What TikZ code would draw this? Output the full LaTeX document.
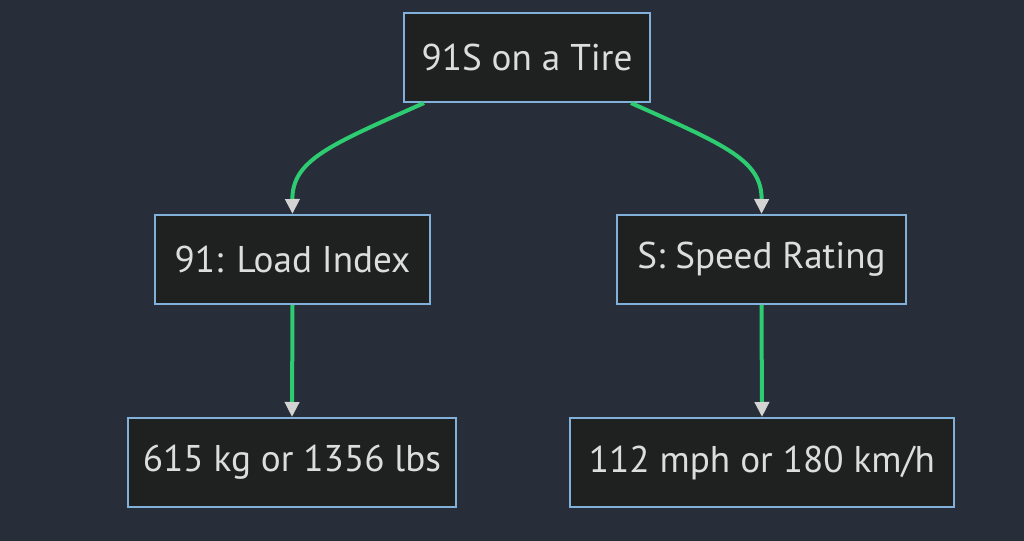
\documentclass[tikz,border=0pt]{standalone}
\usepackage{fontspec}
\setmainfont{PT Sans}
\usetikzlibrary{arrows.meta}

\definecolor{hintergrund}{RGB}{40,45,58}
\definecolor{kastenfill}{RGB}{31,32,32}
\definecolor{kastenrand}{RGB}{129,177,219}
\definecolor{schrift}{RGB}{221,221,221}
\definecolor{linie}{RGB}{46,204,113}
\definecolor{spitze}{RGB}{211,211,211}

\begin{document}
\begin{tikzpicture}[x=0.5pt, y=-0.5pt,
        kasten/.style={draw=kastenrand, line width=1pt, fill=kastenfill,
            text=schrift, inner sep=0pt, minimum height=44.5pt,
            font=\fontsize{18.6}{22}\selectfont},
        pfeil/.style={draw=linie, line width=2pt,
            -{Triangle[width=7pt,length=7.5pt,fill=spitze,color=spitze]}},
        >=Triangle % Voreinstellung für Pfeilspitzen
        ]
            \fill[hintergrund] (0,0) rectangle (1024,541);
            \useasboundingbox (0,0) rectangle (1024,541);

            % Kaesten
            \node[kasten, minimum width=123pt] (reifen) at (527,57.5) {91S on a Tire};
            \node[kasten, minimum width=137.5pt] (last) at (292.5,259.5) {91: Load Index};
            \node[kasten, minimum width=144.5pt] (tempo) at (761.5,259.5) {S: Speed Rating};
            \node[kasten, minimum width=164pt] (kg) at (292,462.5) {615 kg or 1356 lbs};
            \node[kasten, minimum width=192pt] (mph) at (762,462.5) {112 mph or 180 km/h};

            % Verbindungen
            \draw[pfeil] ([xshift=10.5pt]reifen.south west)
                    .. controls (330,145) and (292,160) .. (last.north);
            \draw[pfeil] ([xshift=-10pt]reifen.south east)
                    .. controls (725,145) and (762,160) .. (tempo.north);
            \draw[pfeil] (last.south) -- (kg.north);
            \draw[pfeil] (tempo.south) -- (mph.north);

        \end{tikzpicture}
\end{document}
